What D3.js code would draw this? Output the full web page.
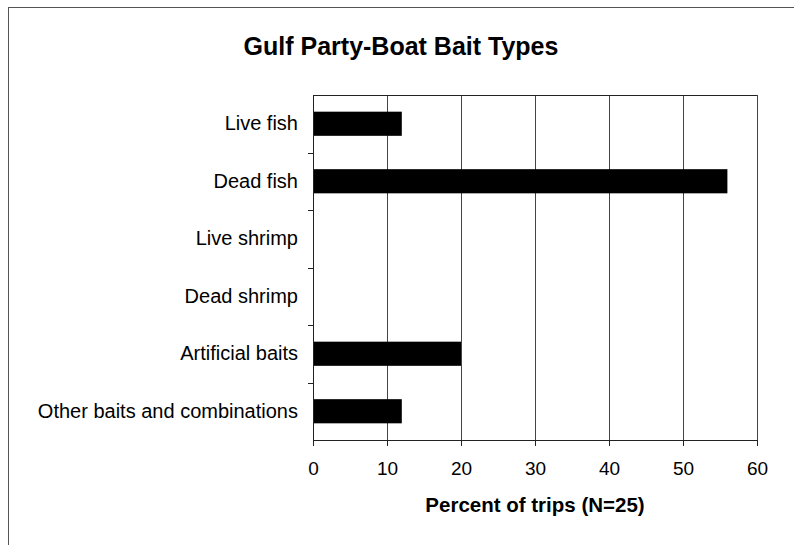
<!DOCTYPE html>
<html>
<head>
<meta charset="utf-8">
<script src="https://cdn.jsdelivr.net/npm/d3@7"></script>
<style>
  body { margin: 0; background: #fff; }
  svg { font-family: "Liberation Sans", Arial, sans-serif; }
</style>
</head>
<body>
<svg id="viz"></svg>
<script>
// chart data
var categories = ['Live fish', 'Dead fish', 'Live shrimp', 'Dead shrimp', 'Artificial baits', 'Other baits and combinations'];
var percents = [12, 56, 0, 0, 20, 12];
var xTicks = [0, 10, 20, 30, 40, 50, 60];

var width = 794;
var height = 545;
var margin = { top: 95, right: 37, bottom: 105, left: 313 };
var drawWidth = width - margin.left - margin.right;
var drawHeight = height - margin.top - margin.bottom;
var FONT = '"Liberation Sans", Arial, sans-serif';

var svg = d3.select('#viz')
            .attr('width', width)
            .attr('height', height);

// page frame (scanned document edges)
svg.append('line')
   .attr('x1', 9).attr('x2', 794).attr('y1', 7.5).attr('y2', 7.5)
   .attr('stroke', '#555').attr('stroke-width', 1);
svg.append('line')
   .attr('x1', 8.5).attr('x2', 8.5).attr('y1', 7).attr('y2', 545)
   .attr('stroke', '#555').attr('stroke-width', 1);

var g = svg.append('g')
           .attr('transform', `translate(${margin.left}, ${margin.top})`);

var xScale = d3.scaleLinear().domain([0, 60]).range([0, drawWidth]);
var yScale = d3.scaleBand().domain(categories).range([0, drawHeight]).paddingInner(0.58).paddingOuter(0.29);

// gridlines
g.selectAll('.grid')
 .data(xTicks.slice(1))
 .enter()
 .append('line')
 .attr('class', 'grid')
 .attr('x1', d => Math.round(xScale(d)) + 0.5)
 .attr('x2', d => Math.round(xScale(d)) + 0.5)
 .attr('y1', 0)
 .attr('y2', drawHeight)
 .attr('stroke', '#444')
 .attr('stroke-width', 1);

// top border of the plot area
g.append('line')
 .attr('x1', 0).attr('x2', drawWidth).attr('y1', 0.5).attr('y2', 0.5)
 .attr('stroke', '#222');

// bars
g.selectAll('rect.bar')
 .data(percents)
 .enter()
 .append('rect')
 .attr('class', 'bar')
 .attr('x', 0)
 .attr('y', (d, i) => yScale(categories[i]))
 .attr('width', d => xScale(d))
 .attr('height', yScale.bandwidth())
 .attr('fill', '#000');

// x axis
var xAxis = d3.axisBottom(xScale).tickValues(xTicks).tickSize(6).tickPadding(16);
var xg = g.append('g')
          .attr('transform', `translate(0, ${drawHeight})`)
          .call(xAxis);
xg.select('.domain').attr('stroke', '#222');
xg.selectAll('.tick line').attr('stroke', '#222');
xg.selectAll('text').attr('font-size', 19).attr('fill', '#000').attr('font-family', FONT);

// y axis: ticks sit between categories
var yAxis = d3.axisLeft(yScale).tickSize(0).tickPadding(15);
var yg = g.append('g').call(yAxis);
yg.select('.domain').attr('stroke', '#222');
yg.selectAll('text').attr('font-size', 20).attr('fill', '#000').attr('font-family', FONT);
g.selectAll('.ytick')
 .data(d3.range(1, categories.length))
 .enter()
 .append('line')
 .attr('class', 'ytick')
 .attr('x1', -5).attr('x2', 0)
 .attr('y1', d => Math.round(d * drawHeight / categories.length) + 0.5)
 .attr('y2', d => Math.round(d * drawHeight / categories.length) + 0.5)
 .attr('stroke', '#222');

// right border
g.append('line')
 .attr('x1', drawWidth + 0.5).attr('x2', drawWidth + 0.5).attr('y1', 0).attr('y2', drawHeight)
 .attr('stroke', '#444');

// title
svg.append('text')
   .attr('x', 401).attr('y', 55)
   .attr('text-anchor', 'middle')
   .attr('font-size', 25).attr('font-weight', 'bold')
   .text('Gulf Party-Boat Bait Types');

// x axis title
svg.append('text')
   .attr('x', 535).attr('y', 512)
   .attr('text-anchor', 'middle')
   .attr('font-size', 20.5).attr('font-weight', 'bold')
   .text('Percent of trips (N=25)');
</script>
</body>
</html>
